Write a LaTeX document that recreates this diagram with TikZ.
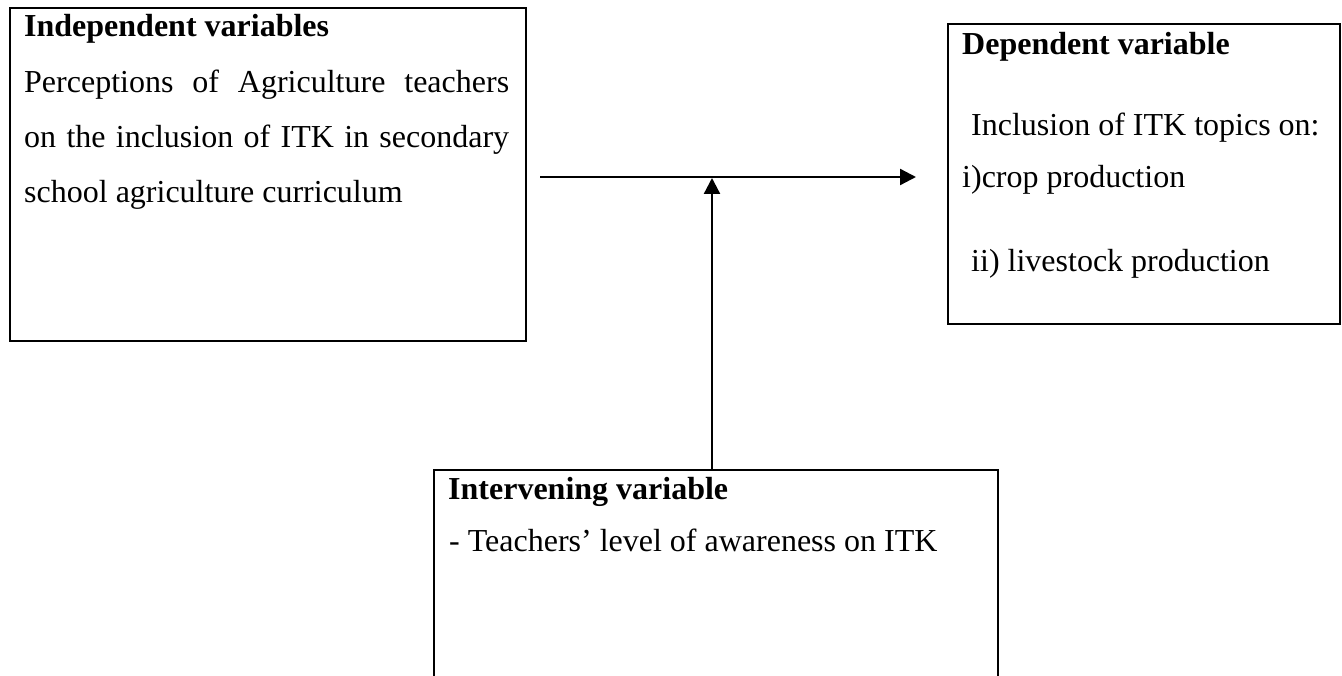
\documentclass[tikz,border=0pt]{standalone}
\usepackage{fontspec}
\setmainfont{Liberation Serif}
\usetikzlibrary{arrows.meta}
\begin{document}
\begin{tikzpicture}[x=1pt,y=-1pt,
  boxnode/.style={draw=black, line width=2.4pt, anchor=north west, inner sep=0pt},
  txt/.style={anchor=base west, inner sep=0pt, font=\fontsize{32}{32}\selectfont},
  hdr/.style={txt, font=\fontsize{32}{32}\selectfont\bfseries},
  conn/.style={line width=2.3pt, -{Triangle[length=16pt,width=16pt]}}]
\useasboundingbox (0,0) rectangle (1342,676);
% boxes
\node[boxnode, minimum width=516pt, minimum height=333pt] (indep) at (9,7) {};
\node[boxnode, minimum width=392pt, minimum height=300pt] (dep) at (947,23) {};
\node[boxnode, minimum width=564pt, minimum height=300pt] (interv) at (433,469) {};
% independent texts
\node[hdr] (ih) at (24,37) {Independent variables};
\node[txt] (i1) at (24,93) {\makebox[485pt][s]{Perceptions of Agriculture teachers}};
\node[txt] (i2) at (24,148) {\makebox[485pt][s]{on the inclusion of ITK in secondary}};
\node[txt] (i3) at (24,203) {school agriculture curriculum};
% dependent texts
\node[hdr] (dh) at (962,55) {Dependent variable};
\node[txt] (d1) at (971,136) {Inclusion of ITK topics on:};
\node[txt] (d2) at (962,188) {i)crop production};
\node[txt] (d3) at (971,272) {ii) livestock production};
% intervening texts
\node[hdr] (vh) at (448,499) {Intervening variable};
\node[txt] (v1) at (449,551) {- Teachers’ level of awareness on ITK};
% connectors
\coordinate (hs) at (540,177);
\coordinate (he) at (916,177);
\coordinate (vt) at (712,178);
\draw[conn] (hs) -- (he);
\draw[conn] (interv.north west -| vt) -- (vt);
\end{tikzpicture}
\end{document}
